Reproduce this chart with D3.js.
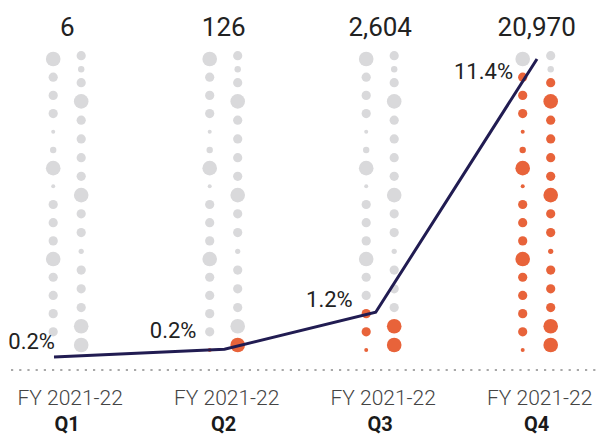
<!DOCTYPE html>
<html>
<head>
<meta charset="utf-8">
<script src="https://cdn.jsdelivr.net/npm/d3@7"></script>
<style>
    html, body { margin: 0; padding: 0; background: #fff; }
    svg { display: block; font-family: Roboto, "Noto Sans", sans-serif; }
</style>
</head>
<body>
<div id="chart"></div>
<script>
/**
 * Quarters shown along the bottom.
 * @type Array
 */
var QUARTERS = ['Q1', 'Q2', 'Q3', 'Q4'];
var PERIOD = 'FY 2021-22';
/** Totals printed above each quarter. */
var TOTALS = [6, 126, 2604, 20970];
/** Share labels next to the line. */
var SHARE_LABELS = ['0.2%', '0.2%', '1.2%', '11.4%'];
/** Line values (in %). */
var SHARE_VALUES = [0.2, 0.49, 1.88, 11.4];
/** Highlighted (orange) dots counted from the bottom, per column. */
var LEFT_HIGHLIGHT = [0, 1, 3, 16];
var RIGHT_HIGHLIGHT = [0, 1, 2, 15];
/** Dots shown in the left column of each quarter. */
var LEFT_COUNT = [16, 17, 17, 17];
/** Size class of every dot, top to bottom. */
var LEFT_SIZES = [4, 3, 3, 3, 1, 2, 4, 1, 3, 3, 3, 4, 3, 3, 3, 3, 1];
var RIGHT_SIZES = [3, 2, 3, 4, 3, 3, 3, 3, 4, 3, 3, 1.5, 3, 3, 3, 4, 4];
/** Row of every dot in its column. */
var LEFT_ROWS = [0, 1, 2, 3, 4, 5, 6, 7, 8, 9, 10, 11, 12, 13, 14, 15, 16];
var RIGHT_ROWS = [0, 0.72, 1.44, 2.44, 3.44, 4.44, 5.44, 6.44, 7.44, 8.44, 9.44, 10.44, 11.44, 12.44, 13.44, 14.44, 15.44];

var WIDTH = 596, HEIGHT = 436;
var GREY = '#d9d9db', ORANGE = '#e8633a', NAVY = '#211c52';

var svg = d3.select('#chart').append('svg')
    .attr('width', WIDTH)
    .attr('height', HEIGHT);

var x = d3.scalePoint()
    .domain(QUARTERS)
    .range([67.2, 536.7]);
var colOffset = 14;
var yLeft = d3.scaleLinear().domain([0, 16]).range([59, 350]);
var yRight = d3.scaleLinear().domain([0, 15.44]).range([55.7, 345]);
var radius = d3.scaleLinear().domain([1, 2, 3, 4]).range([2, 3.2, 4.6, 7.3]);
var yShare = d3.scaleLinear().domain([0, 11.4]).range([362.3, 59]);

// where the line sits inside each quarter, and label nudges
var lineShift = [-13.2, 0.8, -4.5, 0.3];
var labelDx = [1, -28, -23, -24];
var labelDy = [-8, -11, -5, 20];

/**
 * Builds the dot list for one column of a quarter.
 */
function columnDots(q, i, side) {
    var sizes = side === 'L' ? LEFT_SIZES : RIGHT_SIZES;
    var rows = side === 'L' ? LEFT_ROWS : RIGHT_ROWS;
    var n = side === 'L' ? LEFT_COUNT[i] : sizes.length;
    var hi = side === 'L' ? LEFT_HIGHLIGHT[i] : RIGHT_HIGHLIGHT[i];
    var out = [];
    for (var k = 0; k < n; k++) {
        out.push({
            q: q,
            side: side,
            row: rows[k],
            size: sizes[k],
            orange: k >= sizes.length - hi
        });
    }
    return out;
}

var dots = [];
QUARTERS.forEach(function(q, i) {
    dots = dots.concat(columnDots(q, i, 'L'), columnDots(q, i, 'R'));
});

// dotted base line
svg.append('line')
    .attr('x1', 11).attr('x2', WIDTH)
    .attr('y1', 370).attr('y2', 370)
    .attr('stroke', '#a8a8a8')
    .attr('stroke-width', 2.2)
    .attr('stroke-dasharray', '2.2,6');

svg.append('g').selectAll('circle')
    .data(dots)
    .join('circle')
    .attr('cx', function(d) { return x(d.q) + (d.side === 'L' ? -colOffset : colOffset); })
    .attr('cy', function(d) { return d.side === 'L' ? yLeft(d.row) : yRight(d.row); })
    .attr('r', function(d) { return radius(d.size); })
    .attr('fill', function(d) { return d.orange ? ORANGE : GREY; });

var linePts = QUARTERS.map(function(q, i) {
    return [x(q) + lineShift[i], yShare(SHARE_VALUES[i])];
});

svg.append('path')
    .attr('d', d3.line()(linePts))
    .attr('fill', 'none')
    .attr('stroke', NAVY)
    .attr('stroke-width', 3)
    .attr('stroke-linejoin', 'miter');

svg.append('g').selectAll('text')
    .data(SHARE_LABELS)
    .join('text')
    .attr('x', function(d, i) { return linePts[i][0] + labelDx[i]; })
    .attr('y', function(d, i) { return linePts[i][1] + labelDy[i]; })
    .attr('text-anchor', 'end')
    .attr('font-size', 22)
    .attr('fill', '#222')
    .text(function(d) { return d; });

svg.append('g').selectAll('text')
    .data(TOTALS)
    .join('text')
    .attr('x', function(d, i) { return x(QUARTERS[i]); })
    .attr('y', 36)
    .attr('text-anchor', 'middle')
    .attr('font-size', 26)
    .attr('fill', '#222')
    .text(function(d) { return d3.format(',')(d); });

var axis = svg.append('g').selectAll('g')
    .data(QUARTERS)
    .join('g')
    .attr('transform', function(d) { return 'translate(' + x(d) + ',0)'; });

axis.append('text')
    .attr('x', 3)
    .attr('y', 405)
    .attr('text-anchor', 'middle')
    .attr('font-size', 21)
    .attr('font-weight', 300)
    .attr('fill', '#444')
    .text(PERIOD);

axis.append('text')
    .attr('y', 431)
    .attr('text-anchor', 'middle')
    .attr('font-size', 20)
    .attr('font-weight', 700)
    .attr('fill', '#1a1a1a')
    .text(function(d) { return d; });
</script>
</body>
</html>
